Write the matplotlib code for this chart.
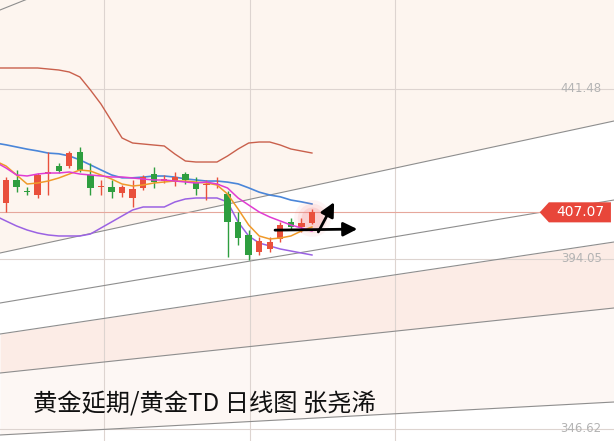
"""
plot.py — 黄金延期/黄金TD daily candlestick chart with MAs, bands and fan lines.
Writes out.png (614x441).
"""
import numpy as np
import matplotlib.pyplot as plt
from matplotlib.patches import Polygon
from matplotlib.transforms import blended_transform_factory

# ── Candles (index 0..29) ────────────────────────────────────────────────────
opens  = [409.67, 416.09, 412.90, 411.91, 417.80, 420.00, 420.00, 423.90, 417.49, 414.00,
          414.14, 412.46, 411.07, 413.86, 417.76, 415.90, 415.53, 417.76, 415.53, 414.70,
          414.60, 412.18, 404.37, 400.75, 396.00, 396.84, 399.63, 404.37, 402.98, 404.09]
highs  = [416.93, 418.88, 414.14, 418.04, 423.90, 420.83, 424.18, 425.30, 420.83, 416.09,
          416.09, 414.70, 416.09, 417.49, 419.72, 417.49, 418.32, 418.32, 416.93, 416.09,
          416.93, 413.02, 407.16, 402.14, 400.19, 400.19, 404.37, 405.49, 405.49, 407.90]
lows   = [407.16, 412.74, 411.91, 411.07, 411.91, 418.04, 419.44, 418.32, 411.91, 411.91,
          411.07, 411.35, 408.56, 413.30, 413.86, 415.25, 414.42, 414.97, 411.91, 410.51,
          413.86, 394.61, 397.96, 393.77, 395.17, 396.00, 398.79, 402.14, 401.58, 403.80]
closes = [416.09, 414.14, 412.74, 417.49, 418.20, 418.60, 423.62, 418.88, 413.86, 414.20,
          412.74, 414.14, 413.58, 416.93, 415.53, 416.10, 416.93, 416.09, 413.58, 414.97,
          414.80, 404.37, 399.91, 395.17, 399.07, 398.79, 403.54, 402.98, 404.09, 407.07]

# ── Indicator lines (index -1..29) ───────────────────────────────────────────
ma_blue = [426.4, 425.9, 425.3, 424.7, 424.2, 423.6, 423.4, 422.8, 421.7, 420.3, 418.9,
           417.5, 416.7, 416.7, 416.9, 417.2, 417.2, 416.9, 416.4, 416.1, 415.8,
           415.8, 415.5, 415.0, 413.9, 412.7, 411.9, 411.4, 410.5, 410.0, 409.4]
ma_orange = [421.39, 420.00, 417.49, 414.97, 415.25, 415.81, 416.65, 417.76, 418.88, 418.60,
             417.49, 416.37, 414.97, 414.42, 414.70, 415.25, 415.53, 415.81, 415.81, 415.53,
             415.25, 414.70, 412.18, 407.99, 403.54, 400.47, 399.63, 399.91, 400.47, 401.86,
             402.98]
ma_magenta = [421.11, 419.44, 417.49, 417.21, 417.76, 418.04, 418.04, 418.32, 417.76, 417.49,
              417.21, 416.93, 416.93, 416.65, 416.37, 416.09, 416.09, 415.81, 415.53, 415.25,
              415.53, 414.97, 413.86, 411.07, 409.11, 407.16, 405.77, 404.65, 403.54, 402.70,
              401.86]
band_lower = [406.05, 404.65, 403.26, 402.14, 401.30, 400.75, 400.47, 400.47, 400.47, 401.02,
              402.70, 404.37, 406.05, 407.72, 408.56, 408.56, 408.56, 409.95, 410.79, 411.07,
              411.07, 411.07, 409.95, 404.37, 400.47, 398.51, 397.68, 396.84, 396.28, 395.72,
              395.17]
band_upper = [447.34, 447.34, 447.34, 447.34, 447.34, 447.06, 446.78, 446.22, 444.83, 441.20,
              437.29, 432.55, 427.81, 426.41, 426.13, 425.85, 425.58, 423.35, 421.39, 421.11,
              421.11, 421.11, 422.79, 424.74, 426.41, 426.69, 426.69, 425.85, 424.74, 424.18,
              423.62]

# ── Fan lines: price at left edge / right edge of the chart ─────────────────
fan_left  = [463.52, 395.72, 381.77, 373.12, 362.24, 344.95]
fan_right = [532.00, 432.55, 410.51, 398.79, 380.38, 354.15]

# ── Axis labels / marks ──────────────────────────────────────────────────────
price_ticks = [441.48, 394.05, 346.62]
tick_labels = ["441.48", "394.05", "346.62"]
vgrid_idx = [9.3, 23.1, 36.9]
last_price = 407.07
title = "黄金延期/黄金TD 日线图 张尧浠"

# arrows drawn on the chart (index, price)
arrow_flat = ((25.5, 402.1), (33.3, 402.4))
arrow_up = ((29.6, 401.6), (31.1, 409.9))

RED = "#e9503c"
GREEN = "#2e9e3f"

XLIM = (-0.57, 57.63)
YLIM = (343.27, 466.31)


def draw_candles(ax):
    x = np.arange(len(opens))
    o, h, l, c = map(np.asarray, (opens, highs, lows, closes))
    up = c >= o
    colors = np.where(up, RED, GREEN)
    ax.vlines(x, l, h, colors=colors, lw=1.0, zorder=5)
    body = np.maximum(np.abs(c - o), 0.35)
    ax.bar(x, body, bottom=np.minimum(o, c), width=0.6, color=colors,
           linewidth=0, zorder=6)
    # glow behind last candle
    for s, a in [(700, 0.08), (450, 0.12), (250, 0.18)]:
        ax.scatter([x[-1]], [closes[-1] - 1.5], s=s, color="#f47a7a",
                   alpha=a, linewidths=0, zorder=4)


def main():
    fig = plt.figure(figsize=(6.14, 4.41), dpi=100)
    ax = fig.add_axes([0, 0, 1, 1])
    ax.set_xlim(*XLIM)
    ax.set_ylim(*YLIM)
    ax.axis("off")
    fig.patch.set_facecolor("white")

    # background bands between fan lines
    xs = np.array(XLIM)
    fan = [np.array([a, b]) for a, b in zip(fan_left, fan_right)]
    ax.fill_between(xs, fan[1], YLIM[1] + 80, color="#fdf5ef", lw=0, zorder=0)
    ax.fill_between(xs, fan[4], fan[3], color="#fcece6", lw=0, zorder=0)
    ax.fill_between(xs, fan[5], fan[4], color="#fdf7f4", lw=0, zorder=0)

    # grid
    for p in price_ticks:
        ax.axhline(p, color="#ddd4d0", lw=0.8, zorder=1)
    for v in vgrid_idx:
        ax.axvline(v, color="#ddd4d0", lw=0.8, zorder=1)

    for f in fan:
        ax.plot(xs, f, color="#8e8e8e", lw=0.8, zorder=2)

    # last-price line
    trans = blended_transform_factory(ax.transAxes, ax.transData)
    ax.plot([0, 0.88], [last_price, last_price], color="#e6a79c", lw=0.8,
            transform=trans, zorder=2)

    # indicator lines
    xi = np.arange(-1, len(opens))
    ax.plot(xi, band_upper, color="#c9604c", lw=1.0, zorder=3)
    ax.plot(xi, band_lower, color="#9b62e3", lw=1.1, zorder=3)
    ax.plot(xi, ma_blue, color="#4a86d9", lw=1.2, zorder=3)
    ax.plot(xi, ma_orange, color="#f09a2a", lw=1.1, zorder=7)
    ax.plot(xi, ma_magenta, color="#e03cd2", lw=1.1, zorder=7)

    draw_candles(ax)

    # arrows
    for (x0, y0), (x1, y1) in (arrow_flat, arrow_up):
        ax.annotate("", xy=(x1, y1), xytext=(x0, y0), zorder=9,
                    arrowprops=dict(arrowstyle="-|>,head_length=0.6,head_width=0.3",
                                    color="black", lw=2.0, shrinkA=0, shrinkB=0,
                                    mutation_scale=14))

    # price labels
    for p, t in zip(price_ticks, tick_labels):
        ax.text(0.98, p, t, transform=trans, ha="right", va="center",
                fontsize=8.5, color="#b3b3b3", zorder=8)

    # last price tag
    half = 2.8
    tag = Polygon([(0.879, last_price), (0.894, last_price + half),
                   (0.995, last_price + half), (0.995, last_price - half),
                   (0.894, last_price - half)], closed=True, transform=trans,
                  facecolor="#e8463a", edgecolor="none", zorder=8)
    ax.add_patch(tag)
    ax.text(0.945, last_price, f"{last_price:.2f}", transform=trans, ha="center",
            va="center", fontsize=10, color="white", zorder=9)

    ax.text(0.054, 0.066, title, transform=ax.transAxes, ha="left", va="baseline",
            fontsize=17.5, color="#111111", zorder=10,
            family=["Noto Sans CJK SC", "DejaVu Sans"])

    fig.savefig("out.png", dpi=100)
    plt.close(fig)


if __name__ == "__main__":
    main()
